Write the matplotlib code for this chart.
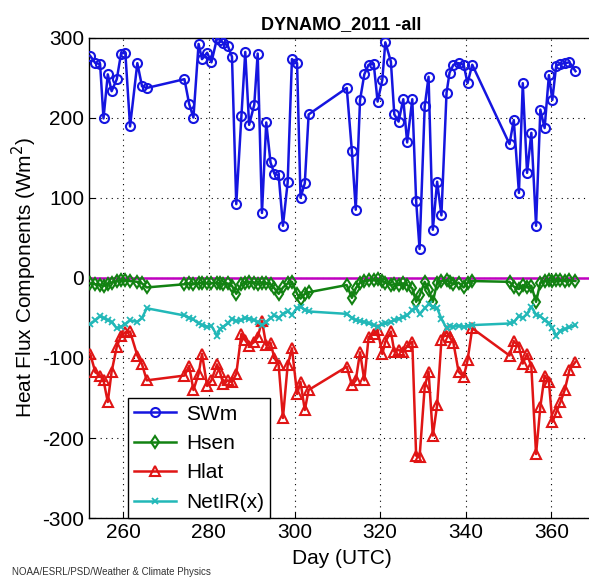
import numpy as np
import matplotlib
matplotlib.use("Agg")
import matplotlib.pyplot as plt

plt.rcParams['font.family'] = ['Liberation Sans', 'DejaVu Sans']
plt.rcParams['axes.unicode_minus'] = False

# day of year (UTC) of each sample
days = [252.3, 253.5, 254.6, 255.4, 256.4, 257.3, 258.5, 259.5, 260.5, 261.6, 263.3, 264.4, 265.5,
        274.3, 275.4, 276.4, 277.6, 278.4, 279.6, 280.6, 281.9, 282.6, 283.4, 284.4, 285.4, 286.4,
        287.6, 288.5, 289.4, 290.6, 291.4, 292.4, 293.4, 294.4, 295.3, 296.3, 297.3, 298.4, 299.4,
        300.6, 301.4, 302.4, 303.3,
        312.2, 313.4, 314.3, 315.3, 316.3, 317.3, 318.5, 319.4, 320.5, 321.2, 322.5, 323.3, 324.3,
        325.4, 326.3, 327.5, 328.4, 329.2, 330.4, 331.3, 332.3, 333.3, 334.3, 335.5, 336.2, 337.1,
        338.3, 339.5, 340.4, 341.5,
        350.2, 351.2, 352.4, 353.3, 354.3, 355.3, 356.4, 357.4, 358.4, 359.4, 360.2, 361.1, 362.1,
        363.1, 364.2, 365.6]

swm = [277, 268, 267, 199, 254, 233, 248, 280, 281, 189, 268, 239, 237,
       248, 217, 200, 292, 273, 281, 269, 299, 297, 293, 290, 276, 92, 202, 282, 191, 216,
       280, 81, 194, 144, 130, 128, 65, 119, 273, 268, 100, 118, 204,
       237, 158, 85, 222, 254, 266, 267, 220, 247, 294, 270, 204, 195, 223, 169, 223, 96,
       36, 214, 251, 60, 120, 78, 231, 256, 266, 268, 266, 243, 266,
       167, 197, 106, 243, 131, 181, 65, 210, 187, 253, 222, 265, 267, 268, 269, 258]

hsen = [-7, -8, -9, -10, -8, -6, -4, -3, -3, -4, -5, -7, -12,
        -8, -7, -8, -7, -6, -7, -7, -6, -7, -8, -7, -10,
        -20, -8, -6, -5, -6, -8, -6, -7, -8, -13, -20, -12, -7, -5, -20, -26, -20, -18,
        -9, -25, -13, -6, -4, -3, -3, -2, -4, -6, -9, -8, -9, -7, -9, -13, -30,
        -22, -5, -15, -30, -6, -4, -3, -5, -8, -6, -12, -6, -4,
        -5, -11, -14, -9, -12, -10, -30, -6, -4, -3, -4, -3, -3, -4, -3, -4]

hlat = [-95, -118, -122, -128, -155, -117, -86, -72, -68, -67, -97, -108, -128,
        -122, -110, -140, -120, -95, -135, -128, -108, -118, -133, -128, -130, -120,
        -70, -78, -85, -80, -74, -54, -84, -81, -100, -109, -175, -109, -88, -145, -130, -165, -140,
        -111, -134, -128, -93, -128, -74, -70, -65, -95, -80, -67, -92, -90, -93, -85, -80, -222,
        -224, -136, -117, -197, -159, -78, -67, -74, -81, -117, -124, -103, -63,
        -97, -79, -86, -107, -95, -111, -220, -161, -122, -130, -180, -168, -155, -140, -115, -105]

netir = [-58, -53, -48, -50, -53, -55, -63, -61, -58, -53, -55, -50, -38,
         -47, -50, -52, -57, -59, -61, -60, -72, -64, -61, -57, -51, -54,
         -53, -50, -51, -53, -55, -59, -55, -50, -47, -50, -45, -42, -46, -38, -36, -40, -42,
         -45, -50, -53, -54, -55, -57, -59, -61, -58, -57, -55, -53, -51, -49, -47, -40, -38,
         -45, -38, -33, -36, -38, -51, -63, -60, -61, -60, -61, -60, -59,
         -57, -55, -48, -50, -45, -36, -46, -48, -53, -57, -63, -72, -66, -64, -62, -59]

fig = plt.figure(figsize=(5.89, 5.77), dpi=100)
ax = fig.add_axes([0.151, 0.102, 0.858, 0.833])

ax.plot(days, swm, '-o', color='#1515e0', lw=1.8, ms=6.5, mfc='none', mew=1.5, label='SWm', zorder=3)
ax.plot(days, hsen, '-d', color='#128212', lw=1.8, ms=6, mfc='none', mew=1.5, label='Hsen', zorder=3)
ax.plot(days, hlat, '-^', color='#e01515', lw=1.8, ms=7, mfc='none', mew=1.5, label='Hlat', zorder=3)
ax.plot(days, netir, '-x', color='#22b8b8', lw=1.8, ms=5, mew=1.3, label='NetIR(x)', zorder=3)
ax.axhline(0, color='#c000c0', lw=1.8, zorder=2)

ax.set_xlim(252, 370)
ax.set_ylim(-300, 300)
ax.set_xticks(range(260, 361, 20))
ax.set_yticks(range(-300, 301, 100))
ax.tick_params(direction='in', labelsize=15, length=4)
ax.grid(True, linestyle=(0, (1, 4)), color='k', lw=0.8)
for s in ax.spines.values():
    s.set_linewidth(1.0)

ax.set_title('DYNAMO_2011 -all', fontsize=13, fontweight='bold', pad=6)
ax.set_xlabel('Day (UTC)', fontsize=15, labelpad=5)
ax.set_ylabel('Heat Flux Components (Wm$^2$)', fontsize=15, labelpad=2)

leg = ax.legend(loc='lower left', bbox_to_anchor=(0.077, 0.0), borderaxespad=0,
                fontsize=15, fancybox=False, framealpha=1, edgecolor='k',
                handlelength=2.0, handletextpad=0.5, labelspacing=0.5, borderpad=0.3)
leg.get_frame().set_linewidth(1.0)

fig.text(0.02, 0.0, 'NOAA/ESRL/PSD/Weather & Climate Physics', fontsize=7, color='#333333', va='bottom')

fig.savefig('out.png', dpi=100)
